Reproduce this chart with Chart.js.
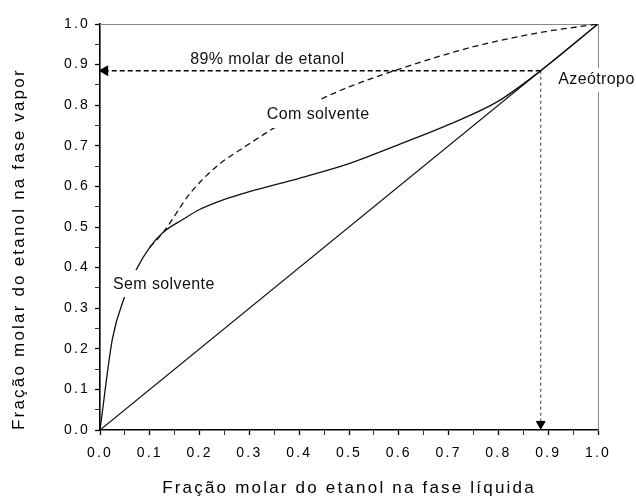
<!DOCTYPE html>
<html>
<head>
<meta charset="utf-8">
<script src="https://cdn.jsdelivr.net/npm/chart.js@4.4.0/dist/chart.umd.min.js"></script>
<style>
  body { margin: 0; background: #fff; }
  canvas { display: block; }
</style>
</head>
<body>
<canvas id="curvaEquilibrio" width="636" height="497"></canvas>
<script>
// equilibrio liquido-vapor etanol/agua, sem e com solvente
const xSemSolvente = [0, 0.025, 0.05, 0.075, 0.1, 0.127, 0.167, 0.2, 0.25, 0.3, 0.4, 0.5, 0.6, 0.7, 0.8, 0.885, 1.0];
const ySemSolvente = [0, 0.225, 0.33, 0.40, 0.45, 0.487, 0.519, 0.543, 0.568, 0.587, 0.62, 0.656, 0.703, 0.752, 0.81, 0.885, 1.0];
const xComSolvente = [0.1, 0.127, 0.181, 0.234, 0.3, 0.348, 0.435, 0.5, 0.616, 0.75, 0.884, 1.0];
const yComSolvente = [0.45, 0.487, 0.583, 0.649, 0.705, 0.743, 0.809, 0.845, 0.895, 0.944, 0.979, 1.0];
const xDiagonal = [0, 1];
const azeotropo = 0.885;
const tickLabels = ['0.0', '0.1', '0.2', '0.3', '0.4', '0.5', '0.6', '0.7', '0.8', '0.9', '1.0'];

const pares = (xs, ys) => xs.map((v, i) => ({ x: v, y: ys[i] }));

// textos dentro do grafico: posicao em unidades dos eixos, fundo branco [cima, dir, baixo, esq]
const rotulos = [
  { texto: '89% molar de etanol', x: 0.336, y: 0.913, alinhar: 'center' },
  { texto: 'Com solvente', x: 0.335, y: 0.776, alinhar: 'left', fundo: [7, 4, 5, 4] },
  { texto: 'Sem solvente', x: 0.026, y: 0.357, alinhar: 'left', fundo: [7, 4, 4, 4] },
  { texto: 'Azeótropo', x: 0.92, y: 0.862, alinhar: 'left', fundo: [4, 2, 4, 2] }
];

const espacamento = {
  id: 'espacamento',
  beforeUpdate(chart) { chart.ctx.letterSpacing = '2.2px'; },
  beforeDraw(chart) { chart.ctx.letterSpacing = '2.2px'; }
};

const textos = {
  id: 'textos',
  afterDatasetsDraw(chart) {
    const { ctx, scales: { x, y } } = chart;
    ctx.save();
    ctx.letterSpacing = '0.4px';
    ctx.font = '16px "Liberation Sans", Arial, sans-serif';
    ctx.textBaseline = 'middle';
    ctx.textAlign = 'left';
    rotulos.forEach(r => {
      const px = x.getPixelForValue(r.x);
      const py = y.getPixelForValue(r.y);
      const w = ctx.measureText(r.texto).width;
      const esq = r.alinhar === 'center' ? px - w / 2 : px;
      if (r.fundo) {
        const [t, d, b, e] = r.fundo;
        ctx.fillStyle = '#fff';
        ctx.fillRect(esq - e, py - 8 - t, w + e + d, 16 + t + b);
      }
      ctx.fillStyle = '#111';
      ctx.fillText(r.texto, esq, py);
    });
    ctx.restore();
  }
};

Chart.defaults.font.family = '"Liberation Sans", Arial, sans-serif';
Chart.defaults.color = '#000';

const marcaTick = (v) => Math.round(v * 20) % 2 ? '' : tickLabels[Math.round(v * 10)];
const larguraTick = c => (Math.round(c.tick.value * 20) % 2 ? 0.8 : 1.3);

new Chart(document.getElementById('curvaEquilibrio'), {
  type: 'scatter',
  data: {
    datasets: [
      {
        label: 'Sem solvente',
        data: pares(xSemSolvente, ySemSolvente),
        showLine: true,
        borderColor: '#111',
        borderWidth: 1.3,
        pointRadius: 0,
        cubicInterpolationMode: 'monotone'
      },
      {
        label: 'Com solvente',
        data: pares(xComSolvente, yComSolvente),
        showLine: true,
        borderColor: '#111',
        borderWidth: 1.3,
        borderDash: [6, 4],
        pointRadius: 0,
        cubicInterpolationMode: 'monotone'
      },
      {
        label: 'y = x',
        data: pares(xDiagonal, xDiagonal),
        showLine: true,
        borderColor: '#111',
        borderWidth: 1.2,
        pointRadius: 0
      },
      {
        label: 'fracao vapor',
        data: [{ x: azeotropo, y: azeotropo }, { x: 0.01, y: azeotropo }],
        showLine: true,
        borderColor: '#000',
        borderWidth: 1.4,
        borderDash: [5, 3],
        pointStyle: 'triangle',
        pointRotation: 270,
        pointRadius: [0, 5],
        pointBackgroundColor: '#000',
        pointBorderColor: '#000'
      },
      {
        label: 'fracao liquido',
        data: [{ x: azeotropo, y: azeotropo }, { x: azeotropo, y: 0.015 }],
        showLine: true,
        borderColor: '#333',
        borderWidth: 1,
        borderDash: [3, 3],
        pointStyle: 'triangle',
        pointRotation: 180,
        pointRadius: [0, 5],
        pointBackgroundColor: '#000',
        pointBorderColor: '#000'
      }
    ]
  },
  options: {
    responsive: false,
    animation: false,
    devicePixelRatio: 1,
    layout: { padding: { top: 24, right: 38, left: 0, bottom: 0 } },
    plugins: {
      legend: { display: false },
      tooltip: { enabled: false }
    },
    scales: {
      x: {
        type: 'linear',
        min: 0,
        max: 1,
        afterFit: s => { s.height = 67; },
        border: { color: '#000', width: 1.6 },
        grid: { drawOnChartArea: false, tickLength: 5, color: '#000', tickWidth: larguraTick },
        ticks: { stepSize: 0.05, autoSkip: false, maxRotation: 0, padding: 10, font: { size: 14 }, callback: marcaTick },
        title: { display: true, text: 'Fração molar do etanol na fase líquida', font: { size: 17, lineHeight: 1 }, padding: 0 }
      },
      y: {
        type: 'linear',
        min: 0,
        max: 1,
        afterFit: s => { s.width = 100; },
        border: { color: '#000', width: 1.6 },
        grid: { drawOnChartArea: false, tickLength: 5, color: '#000', tickWidth: larguraTick },
        ticks: { stepSize: 0.05, autoSkip: false, padding: 5, font: { size: 14 }, callback: marcaTick },
        title: { display: true, text: 'Fração molar do etanol na fase vapor', align: 'start', font: { size: 17, lineHeight: 1 }, padding: { top: 10.5 } }
      },
      x2: {
        type: 'linear',
        position: 'top',
        min: 0,
        max: 1,
        afterFit: s => { s.height = 0; },
        grid: { display: false },
        ticks: { display: false },
        border: { color: '#888', width: 1, dash: [1, 2] }
      },
      y2: {
        type: 'linear',
        position: 'right',
        min: 0,
        max: 1,
        afterFit: s => { s.width = 0; },
        grid: { display: false },
        ticks: { display: false },
        border: { color: '#888', width: 1, dash: [1, 2] }
      }
    }
  },
  plugins: [espacamento, textos]
});
</script>
</body>
</html>
